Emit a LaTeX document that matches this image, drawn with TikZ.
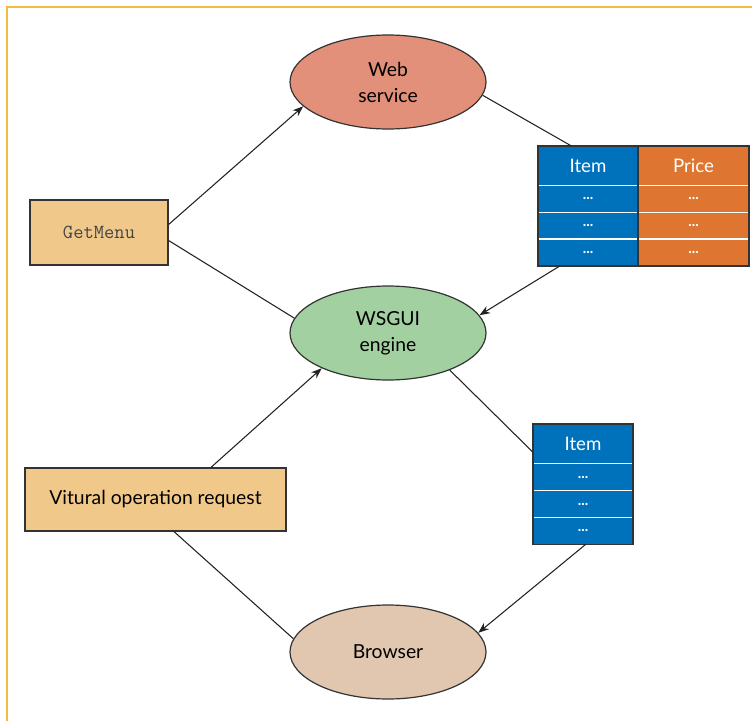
\documentclass[tikz,border=0pt]{standalone}
\usepackage{fontspec}
\setmainfont{Lato}
\usetikzlibrary{positioning,arrows.meta,shapes.geometric}
\definecolor{FrameGold}{HTML}{F4B942}
\definecolor{EdgeGray}{HTML}{333333}
\definecolor{LineGray}{HTML}{222222}
\definecolor{MonoGray}{HTML}{444444}
\definecolor{ServiceRed}{HTML}{E3907A}
\definecolor{EngineGreen}{HTML}{A3D0A1}
\definecolor{BrowserSand}{HTML}{E1C7AF}
\definecolor{BoxTan}{HTML}{F0C98A}
\definecolor{ItemBlue}{HTML}{0072BC}
\definecolor{PriceOrange}{HTML}{DE7631}
\tikzset{
    oval/.style={ellipse, draw=EdgeGray, line width=0.9pt, fill=#1,
        minimum width=147pt, minimum height=70.5pt, inner sep=0pt,
        align=center, font=\fontsize{14.5}{19.5}\selectfont},
    tagbox/.style={draw=EdgeGray, line width=0.9pt, fill=BoxTan, inner sep=0pt,
        font=\fontsize{14.5}{16}\selectfont},
    cell/.style={fill=#1, text=white, inner sep=0pt, minimum width=75pt,
        minimum height=19.75pt, font=\fontsize{11}{11}\selectfont\bfseries},
    headcell/.style={cell=#1, minimum height=29.25pt, font=\fontsize{14}{14}\selectfont},
    link/.style={draw=LineGray, line width=0.8pt},
    flow/.style={link, -{Stealth[length=8pt,width=6pt]}}
}
\begin{document}
\begin{tikzpicture}[x=0.75pt, y=-0.75pt]
    \useasboundingbox (0,0) rectangle (752,721);
    \draw[FrameGold, line width=0.9pt] (7,721) -- (7,7) -- (752,7);

    % ovals
    \node[oval=ServiceRed] (ws) at (388,82) {Web\\service};
    \node[oval=EngineGreen] (eng) at (388,333) {WSGUI\\engine};
    \node[oval=BrowserSand] (br) at (388,652) {Browser};

    % request boxes
    \node[tagbox, minimum width=103.5pt, minimum height=48.75pt] (gm) at (99,232.5)
        {\fontsize{15}{16}\selectfont\color{MonoGray}\ttfamily GetMenu};
    \node[tagbox, minimum width=195.75pt, minimum height=47.25pt] (vor) at (155.5,499.5)
        {Vitural operation request};

    % menu table
    \node[headcell=ItemBlue] (ta0) at (588,165.5) {Item};
    \node[headcell=PriceOrange, minimum width=82.5pt, right=0pt of ta0] (tb0) {Price};
    \foreach \i [remember=\i as \j (initially 0)] in {1,2,3} {
        \node[cell=ItemBlue, below=0pt of ta\j] (ta\i) {...};
        \node[cell=PriceOrange, minimum width=82.5pt, below=0pt of tb\j] (tb\i) {...};
    }
    \foreach \i in {0,1,2}
        \draw[white, line width=0.8pt] (ta\i.south west) -- (tb\i.south east);
    \draw[EdgeGray, line width=1.2pt] (ta0.north west) rectangle (tb3.south east);
    \draw[EdgeGray, line width=1.2pt] (ta0.north east) -- (ta3.south east);

    % item table
    \node[headcell=ItemBlue] (tc0) at (583,444) {Item};
    \foreach \i [remember=\i as \j (initially 0)] in {1,2,3}
        \node[cell=ItemBlue, below=0pt of tc\j] (tc\i) {...};
    \foreach \i in {0,1,2}
        \draw[white, line width=0.8pt] (tc\i.south west) -- (tc\i.south east);
    \draw[EdgeGray, line width=1.2pt] (tc0.north west) rectangle (tc3.south east);

    % connectors
    \draw[flow] ([yshift=6pt]gm.east) -- (ws.196);
    \draw[link] ([yshift=-6pt]gm.east) -- (eng.171);
    \draw[link] (ws.-8) -- ([xshift=-12.75pt]ta0.north);
    \draw[flow] ([xshift=-21pt]ta3.south) -- (eng.11);
    \draw[link] (eng.-31) -- ([yshift=-6pt]tc0.west);
    \draw[flow] ([xshift=2pt]tc3.south) -- (br.12);
    \draw[flow] ([xshift=41.6pt]vor.north) -- (eng.208);
    \draw[link] ([xshift=13.9pt]vor.south) -- (br.172);
\end{tikzpicture}
\end{document}
